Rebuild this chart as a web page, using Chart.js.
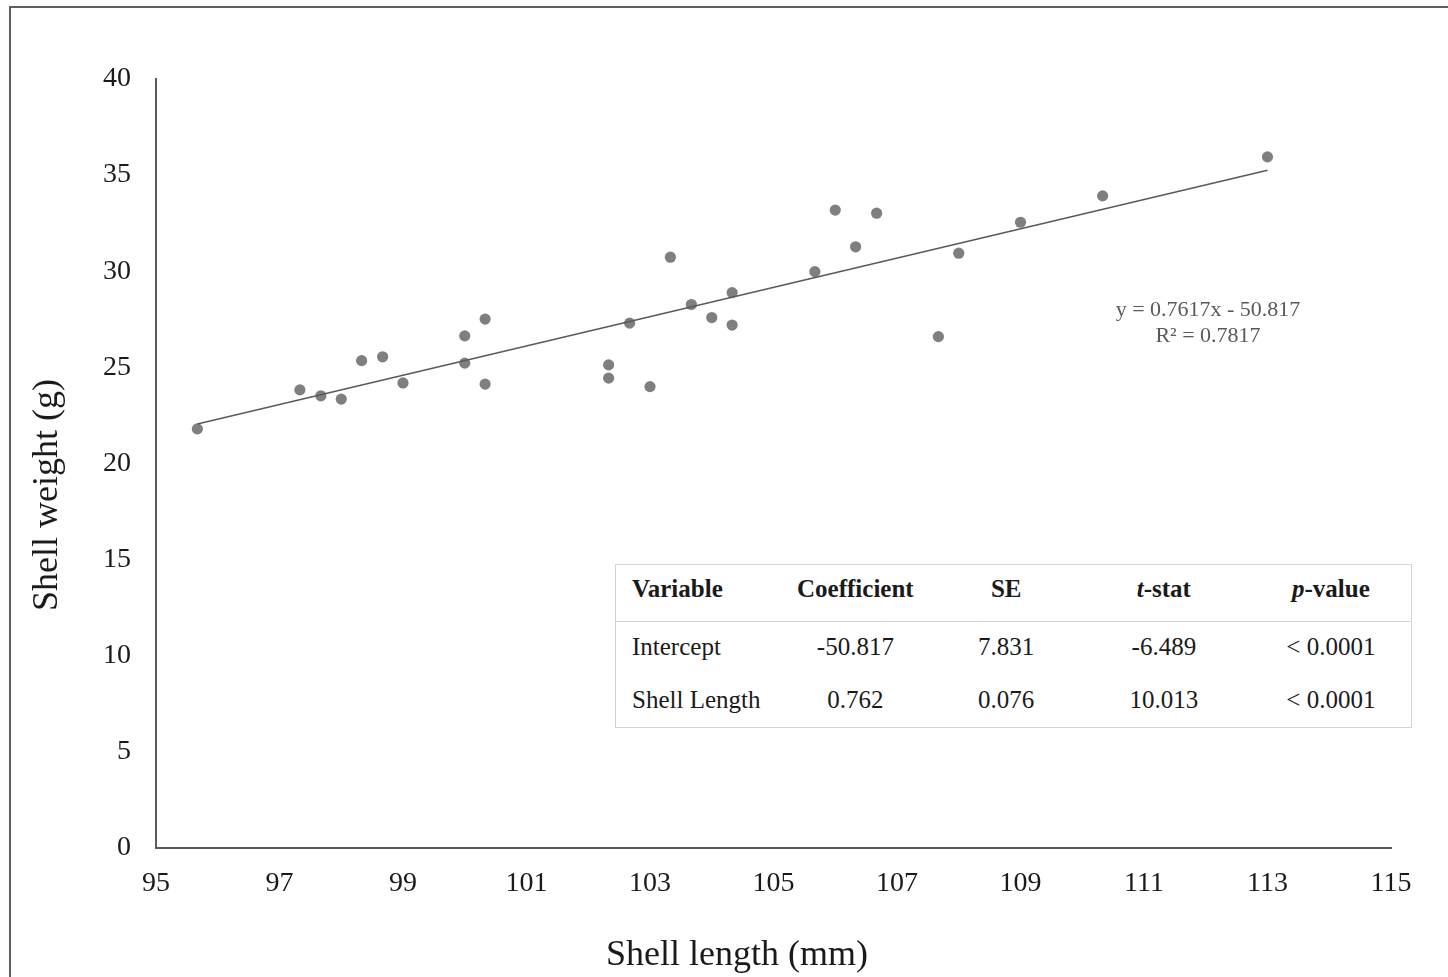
<!DOCTYPE html>
<html>
<head>
<meta charset="utf-8">
<title>Shell weight vs shell length</title>
<script src="https://cdn.jsdelivr.net/npm/chart.js@4.4.1/dist/chart.umd.min.js"></script>
<style>
  html, body { margin: 0; padding: 0; background: #fff; }
  body { width: 1448px; height: 977px; position: relative; overflow: hidden; font-family: "Liberation Serif", "Times New Roman", serif; }
  #frame { position: absolute; left: 9px; top: 6px; width: 1600px; height: 1200px; border-left: 2px solid #5e5e5e; border-top: 2px solid #5e5e5e; box-sizing: border-box; }
  #wrap { position: absolute; left: 0; top: 0; width: 1448px; height: 977px; }
  .title { position: absolute; color: #1a1a1a; font-size: 36px; white-space: nowrap; line-height: 1; }
  #ytitle { left: 45px; top: 495px; transform: translate(-50%, -50%) rotate(-90deg); }
  #xtitle { left: 737px; top: 953px; transform: translate(-50%, -50%); }
  #eq { position: absolute; left: 1208px; top: 296px; transform: translateX(-50%); text-align: center; color: #595959; font-size: 22px; line-height: 26px; white-space: nowrap; }
  #stats { position: absolute; left: 615px; top: 564px; width: 797px; border-collapse: collapse; border: 1.5px solid #d4d4d4; font-size: 25px; color: #1a1a1a; background: #fff; }
  #stats td, #stats th { padding: 0; text-align: center; white-space: nowrap; }
  #stats thead tr { height: 57px; border-bottom: 1.5px solid #d4d4d4; }
  #stats th { font-weight: bold; padding-bottom: 9px; }
  #stats tbody tr { height: 53px; }
  #stats td { padding-bottom: 2px; }
  #stats .first { text-align: left; padding-left: 16px; }
</style>
</head>
<body>
<div id="frame"></div>
<div id="wrap"><canvas id="c" width="1448" height="977"></canvas></div>
<div class="title" id="ytitle">Shell weight (g)</div>
<div class="title" id="xtitle">Shell length (mm)</div>
<div id="eq"></div>
<table id="stats">
  <colgroup>
    <col style="width:160px"><col style="width:160px"><col style="width:142px"><col style="width:174px"><col style="width:161px">
  </colgroup>
  <thead></thead>
  <tbody></tbody>
</table>
<script>
// Shell length (mm) and shell weight (g) of each specimen
const shellLength = [95.67, 97.33, 97.67, 98.0, 98.33, 98.67, 99.0, 100.0, 100.0, 100.33, 100.33,
  102.33, 102.33, 102.67, 103.0, 103.33, 103.67, 104.0, 104.33, 104.33, 105.67, 106.0, 106.33,
  106.67, 107.67, 108.0, 109.0, 110.33, 113.0];
const shellWeight = [21.80, 23.83, 23.52, 23.35, 25.35, 25.55, 24.19, 26.64, 25.22, 27.51, 24.13,
  25.13, 24.44, 27.30, 24.00, 30.73, 28.27, 27.59, 28.89, 27.20, 29.98, 33.18, 31.27,
  33.02, 26.60, 30.94, 32.55, 33.92, 35.95];

// Linear fit reported for the data
const fitSlope = 0.7617;
const fitIntercept = -50.817;
const fitR2 = 0.7817;

// Regression summary table
const tableHeader = ["Variable", "Coefficient", "SE", "<i>t</i>-stat", "<i>p</i>-value"];
const tableVariables = ["Intercept", "Shell Length"];
const tableCoefficient = ["-50.817", "0.762"];
const tableSE = ["7.831", "0.076"];
const tableTStat = ["-6.489", "10.013"];
const tablePValue = ["< 0.0001", "< 0.0001"];

// Axis ranges and tick steps
const xRange = [95, 115, 2];
const yRange = [0, 40, 5];

const points = shellLength.map((x, i) => ({ x: x, y: shellWeight[i] }));
const xMin = Math.min(...shellLength), xMax = Math.max(...shellLength);
const trend = [xMin, xMax].map(x => ({ x: x, y: fitSlope * x + fitIntercept }));

document.getElementById('eq').innerHTML =
  'y = ' + fitSlope + 'x - ' + Math.abs(fitIntercept) + '<br>R² = ' + fitR2;

const thead = document.querySelector('#stats thead');
thead.innerHTML = '<tr>' + tableHeader.map((h, i) => '<th' + (i === 0 ? ' class="first"' : '') + '>' + h + '</th>').join('') + '</tr>';
const tbody = document.querySelector('#stats tbody');
tbody.innerHTML = tableVariables.map((v, i) =>
  '<tr><td class="first">' + v + '</td><td>' + tableCoefficient[i] + '</td><td>' + tableSE[i] +
  '</td><td>' + tableTStat[i] + '</td><td>' + tablePValue[i] + '</td></tr>').join('');

const tickFont = { family: '"Liberation Serif", "Times New Roman", serif', size: 28 };

new Chart(document.getElementById('c'), {
  type: 'scatter',
  data: {
    datasets: [
      {
        label: 'Shell weight',
        data: points,
        backgroundColor: '#7f7f7f',
        borderWidth: 0,
        pointRadius: 5.6,
        pointHoverRadius: 5.6,
        order: 2
      },
      {
        label: 'Linear fit',
        type: 'line',
        data: trend,
        borderColor: '#5a5a5a',
        borderWidth: 1.6,
        pointRadius: 0,
        fill: false,
        order: 1
      }
    ]
  },
  options: {
    responsive: false,
    animation: false,
    events: [],
    layout: { padding: { top: 79, right: 57, left: 0, bottom: 0 } },
    plugins: { legend: { display: false }, tooltip: { enabled: false } },
    scales: {
      x: {
        type: 'linear',
        min: xRange[0], max: xRange[1],
        ticks: { stepSize: xRange[2], color: '#1a1a1a', font: tickFont, padding: 19, maxRotation: 0, autoSkip: false },
        grid: { display: false, drawTicks: false, tickLength: 0 },
        border: { display: true, color: '#5a5a5a', width: 2 },
        afterFit: s => { s.height = 129; }
      },
      y: {
        type: 'linear',
        min: yRange[0], max: yRange[1],
        ticks: { stepSize: yRange[2], color: '#1a1a1a', font: tickFont, padding: 25 },
        grid: { display: false, drawTicks: false, tickLength: 0 },
        border: { display: true, color: '#5a5a5a', width: 2 },
        afterFit: s => { s.width = 156; }
      }
    }
  }
});
</script>
</body>
</html>
